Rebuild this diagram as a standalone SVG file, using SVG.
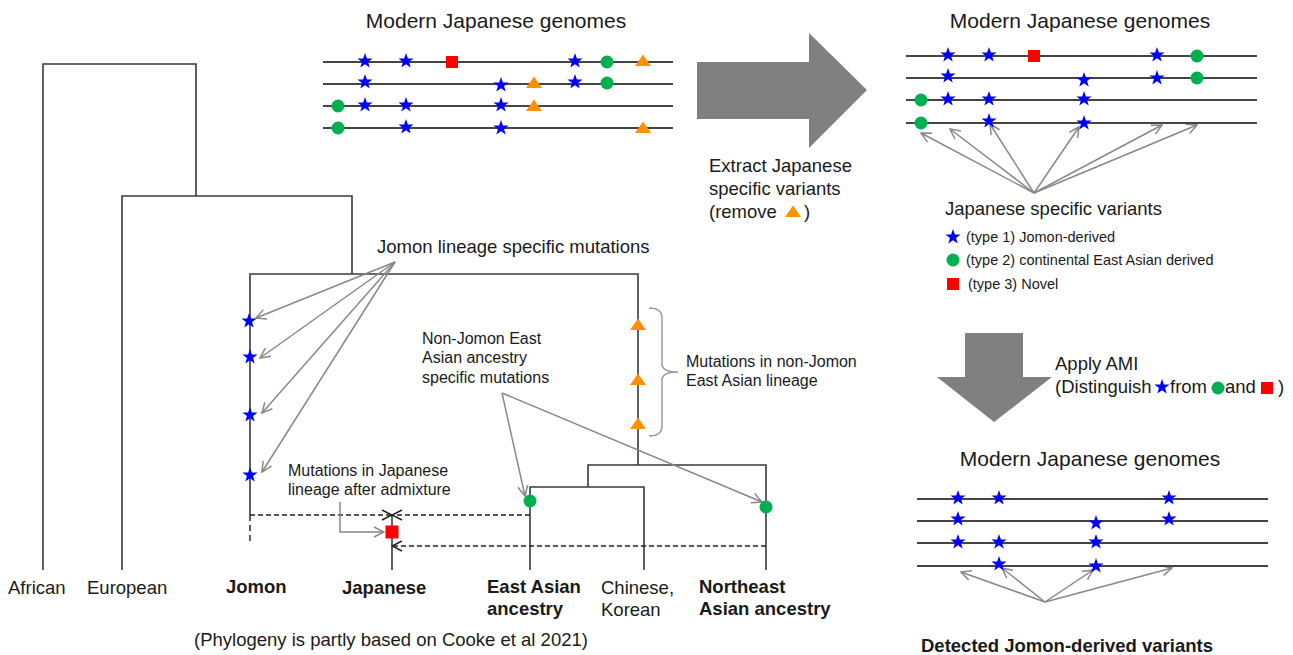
<svg xmlns="http://www.w3.org/2000/svg" xmlns:xlink="http://www.w3.org/1999/xlink" width="1293" height="655" viewBox="0 0 1293 655">
<style>
text{font-family:"Liberation Sans",Arial,sans-serif;fill:#1a1a1a}
.t21{font-size:21px}
.t18{font-size:18.5px}
.t16{font-size:16px}
.t14{font-size:14.5px}
.b{font-weight:bold}
.tree{stroke:#3a3a3a;stroke-width:1.6;fill:none}
.gl{stroke:#444;stroke-width:1.8}
.ga{stroke:#888;stroke-width:1.5;fill:none;marker-end:url(#ga)}
.dash{stroke:#222;stroke-width:1.5;stroke-dasharray:5,3;fill:none}
.star{fill:#0000ff}
.circ{fill:#00b050}
.sq{fill:#ff0000}
.tri{fill:#ff9000}
.big{fill:#808080}
</style>
<defs>
<path id="star" d="M0,-8 L1.88,-2.59 L7.61,-2.47 L3.04,0.99 L4.7,6.47 L0,3.2 L-4.7,6.47 L-3.04,0.99 L-7.61,-2.47 L-1.88,-2.59 Z" class="star"/>
<path id="tri" d="M-8,5 L8,5 L0,-6.5 Z" class="tri"/>
<circle id="circ" r="6.5" class="circ"/>
<rect id="sq" x="-6" y="-6" width="12" height="12" class="sq"/>
<marker id="ga" viewBox="0 0 12 12" refX="11" refY="6" markerWidth="12" markerHeight="12" markerUnits="userSpaceOnUse" orient="auto">
<path d="M1,1 L11,6 L1,11" fill="none" stroke="#888" stroke-width="1.5"/>
</marker>
<marker id="ka" viewBox="0 0 12 12" refX="11" refY="6" markerWidth="12" markerHeight="12" markerUnits="userSpaceOnUse" orient="auto">
<path d="M1,1 L11,6 L1,11" fill="none" stroke="#222" stroke-width="1.5"/>
</marker>
</defs>

<!-- Tree -->
<g id="tree">
<path class="tree" d="M43,570 V64 H196 V196"/>
<path class="tree" d="M122,570 V196 H352 V274"/>
<path class="tree" d="M250,515 V274 H638 V465"/>
<path class="tree" d="M250,515 V545" stroke-dasharray="6,4"/>
<path class="tree" d="M588,487 V465 H766 V570"/>
<path class="tree" d="M530,570 V487 H644 V570"/>
<path class="tree" d="M392,515 V570"/>
</g>

<g id="connectors">
<!-- dashed admixture -->
<path class="dash" d="M250,515 H392" marker-end="url(#ka)"/>
<path class="dash" d="M530,515 H392" marker-end="url(#ka)"/>
<path class="dash" d="M766,546 H392" marker-end="url(#ka)"/>
<!-- Jomon lineage arrows -->
<path class="ga" d="M395,262 L256,318"/>
<path class="ga" d="M395,262 L260,358"/>
<path class="ga" d="M395,262 L262,413"/>
<path class="ga" d="M395,262 L262,472"/>
<!-- Non-Jomon arrows -->
<path class="ga" d="M502,393 L525,496"/>
<path class="ga" d="M502,393 L762,502"/>
<!-- after admixture -->
<path class="ga" d="M340,502 V532 H384"/>
<!-- brace -->
<path d="M649,308 Q662,308 662,318 V364 Q662,372 678,372 Q662,372 662,380 V426 Q662,436 649,436" fill="none" stroke="#999" stroke-width="1.5"/>
<!-- top right arrows -->
<path class="ga" d="M1034,193 L921,133"/>
<path class="ga" d="M1034,193 L950,129"/>
<path class="ga" d="M1034,193 L990,124"/>
<path class="ga" d="M1034,193 L1079,127"/>
<path class="ga" d="M1034,193 L1162,125"/>
<path class="ga" d="M1034,193 L1197,125"/>
<!-- bottom right arrows -->
<path class="ga" d="M1045,602 L961,572"/>
<path class="ga" d="M1045,602 L1002,568"/>
<path class="ga" d="M1045,602 L1093,570"/>
<path class="ga" d="M1045,602 L1172,568"/>
</g>

<!-- tree markers -->
<g id="tree-marks">
<use href="#star" x="249" y="321"/>
<use href="#star" x="250" y="357"/>
<use href="#star" x="250" y="415"/>
<use href="#star" x="250" y="475"/>
<use href="#tri" x="638" y="325"/>
<use href="#tri" x="638" y="380"/>
<use href="#tri" x="638" y="424"/>
<circle cx="530" cy="501" r="6.5" class="circ"/>
<circle cx="766" cy="507" r="6.5" class="circ"/>
<rect x="385.5" y="525.5" width="13" height="13" class="sq"/>
</g>

<!-- Top middle genomes -->
<g id="genomes-top">
<text class="t21" x="496" y="28" text-anchor="middle">Modern Japanese genomes</text>
<line class="gl" x1="323" y1="62" x2="673" y2="62"/>
<line class="gl" x1="323" y1="84" x2="673" y2="84"/>
<line class="gl" x1="323" y1="106" x2="673" y2="106"/>
<line class="gl" x1="323" y1="128" x2="673" y2="128"/>
<use href="#star" x="365" y="61"/><use href="#star" x="406" y="61"/><use href="#sq" x="452" y="62"/><use href="#star" x="575" y="61"/><use href="#circ" x="607" y="62"/><use href="#tri" x="643" y="61"/>
<use href="#star" x="365" y="82"/><use href="#star" x="501" y="85"/><use href="#tri" x="534" y="83"/><use href="#star" x="575" y="82"/><use href="#circ" x="607" y="83"/>
<use href="#circ" x="338" y="106"/><use href="#star" x="365" y="105"/><use href="#star" x="406" y="105"/><use href="#star" x="501" y="105"/><use href="#tri" x="534" y="106"/>
<use href="#circ" x="338" y="128"/><use href="#star" x="406" y="127"/><use href="#star" x="501" y="128"/><use href="#tri" x="643" y="128"/>
</g>

<!-- Big right arrow -->
<g id="arrow-extract">
<path class="big" d="M697,62 H809 V33 L867,90 L809,148 V119 H697 Z"/>
<text class="t18" x="709" y="172">Extract Japanese</text>
<text class="t18" x="709" y="195">specific variants</text>
<text class="t18" x="709" y="218">(remove</text>
<use href="#tri" x="793" y="212"/>
<text class="t18" x="804" y="218">)</text>
</g>

<!-- Top right genomes -->
<g id="genomes-right">
<text class="t21" x="1080" y="28" text-anchor="middle">Modern Japanese genomes</text>
<line class="gl" x1="906" y1="56" x2="1257" y2="56"/>
<line class="gl" x1="906" y1="78" x2="1257" y2="78"/>
<line class="gl" x1="906" y1="100" x2="1257" y2="100"/>
<line class="gl" x1="906" y1="123" x2="1257" y2="123"/>
<use href="#star" x="948" y="55"/><use href="#star" x="989" y="55"/><use href="#sq" x="1034" y="56"/><use href="#star" x="1157" y="55"/><use href="#circ" x="1197" y="56"/>
<use href="#star" x="948" y="76"/><use href="#star" x="1084" y="80"/><use href="#star" x="1157" y="78"/><use href="#circ" x="1197" y="78"/>
<use href="#circ" x="921" y="100"/><use href="#star" x="948" y="99"/><use href="#star" x="989" y="99"/><use href="#star" x="1084" y="99"/>
<use href="#circ" x="921" y="123"/><use href="#star" x="989" y="121"/><use href="#star" x="1084" y="123"/>
</g>

<g id="legend">
<text class="t18" x="945" y="215">Japanese specific variants</text>
<use href="#star" x="953" y="237"/>
<text class="t14" x="966" y="242">(type 1) Jomon-derived</text>
<use href="#circ" x="953" y="260"/>
<text class="t14" x="966" y="265">(type 2) continental East Asian derived</text>
<use href="#sq" x="953" y="284"/>
<text class="t14" x="968" y="289">(type 3) Novel</text>
</g>

<!-- Down arrow -->
<g id="arrow-ami">
<path class="big" d="M965,333 H1023 V377 H1052 L994,422 L937,377 H965 Z"/>
<text class="t18" x="1055" y="370">Apply AMI</text>
<text class="t18" x="1055" y="393">(Distinguish</text>
<use href="#star" x="1162" y="387"/>
<text class="t18" x="1170" y="393">from</text>
<use href="#circ" x="1218" y="388"/>
<text class="t18" x="1225" y="393">and</text>
<use href="#sq" x="1267" y="388"/>
<text class="t18" x="1278" y="393">)</text>
</g>

<!-- Bottom right genomes -->
<g id="genomes-bottom">
<text class="t21" x="1090" y="466" text-anchor="middle">Modern Japanese genomes</text>
<line class="gl" x1="917" y1="499" x2="1268" y2="499"/>
<line class="gl" x1="917" y1="521" x2="1268" y2="521"/>
<line class="gl" x1="917" y1="543" x2="1268" y2="543"/>
<line class="gl" x1="917" y1="566" x2="1268" y2="566"/>
<use href="#star" x="958" y="498"/><use href="#star" x="999" y="498"/><use href="#star" x="1169" y="498"/>
<use href="#star" x="958" y="519"/><use href="#star" x="1096" y="523"/><use href="#star" x="1169" y="519"/>
<use href="#star" x="958" y="542"/><use href="#star" x="999" y="542"/><use href="#star" x="1096" y="542"/>
<use href="#star" x="999" y="564"/><use href="#star" x="1096" y="566"/>
<text class="t18 b" x="921" y="652">Detected Jomon-derived variants</text>
</g>

<!-- Tree annotations -->
<g id="annotations">
<text class="t18" x="377" y="253">Jomon lineage specific mutations</text>
<text class="t16" x="422" y="344">Non-Jomon East</text>
<text class="t16" x="422" y="363">Asian ancestry</text>
<text class="t16" x="422" y="383">specific mutations</text>
<text class="t16" x="686" y="367">Mutations in non-Jomon</text>
<text class="t16" x="686" y="386">East Asian lineage</text>
<text class="t16" x="288" y="476">Mutations in Japanese</text>
<text class="t16" x="288" y="495">lineage after admixture</text>
</g>

<!-- Leaf labels -->
<g id="labels">
<text class="t18" x="8" y="594">African</text>
<text class="t18" x="87" y="594">European</text>
<text class="t18 b" x="226" y="593">Jomon</text>
<text class="t18 b" x="342" y="594">Japanese</text>
<text class="t18 b" x="487" y="593">East Asian</text>
<text class="t18 b" x="487" y="615">ancestry</text>
<text class="t18" x="601" y="594">Chinese,</text>
<text class="t18" x="601" y="616">Korean</text>
<text class="t18 b" x="699" y="593">Northeast</text>
<text class="t18 b" x="699" y="615">Asian ancestry</text>
<text class="t18" x="391" y="646" text-anchor="middle">(Phylogeny is partly based on Cooke et al 2021)</text>
</g>
</svg>
